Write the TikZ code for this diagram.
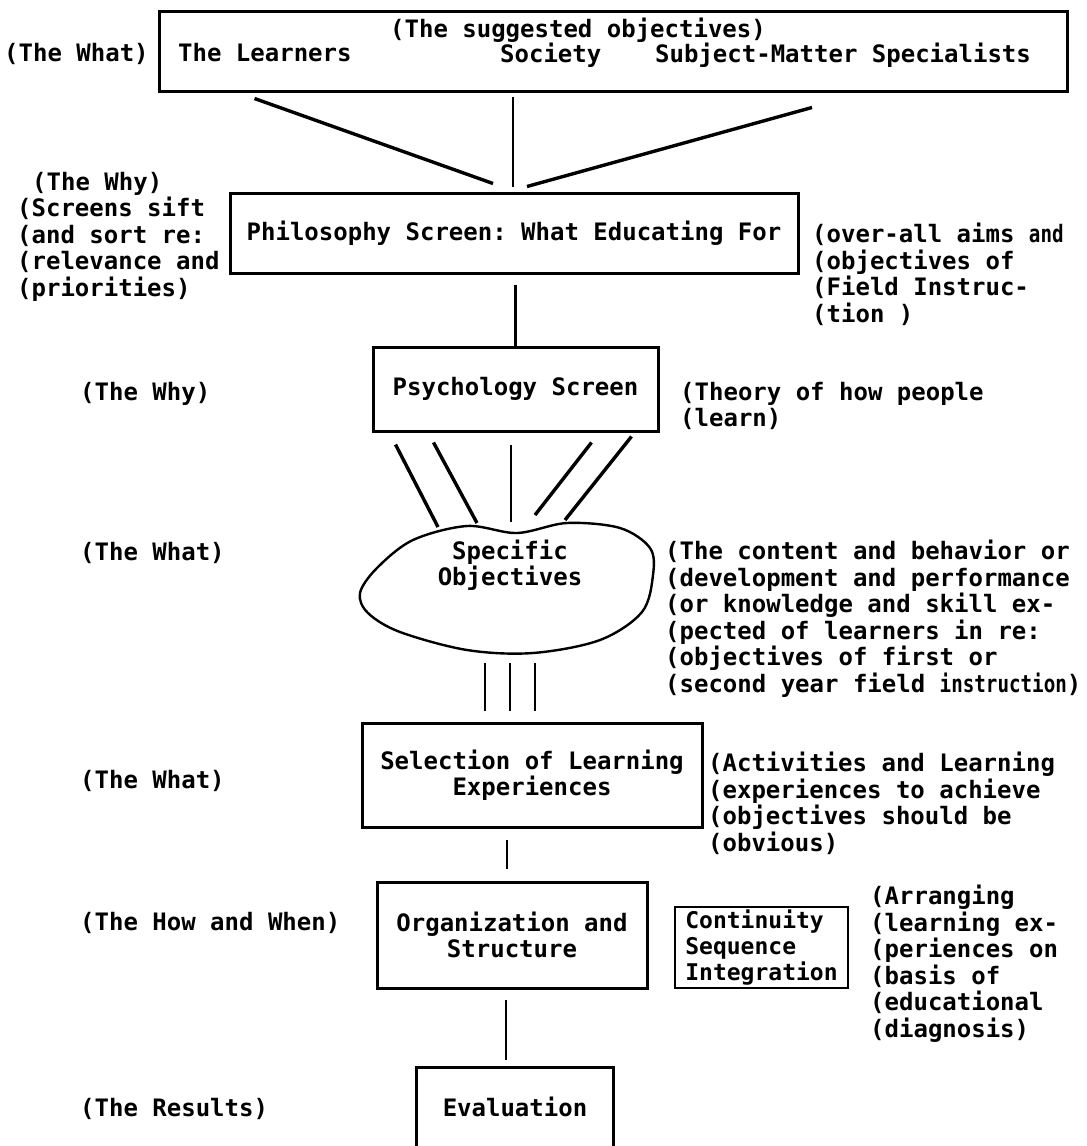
\documentclass[tikz,border=0pt]{standalone}
\usepackage{fontspec}
\usepackage{graphicx}
\setmonofont{DejaVu Sans Mono}
\usetikzlibrary{calc}
\begin{document}
\begin{tikzpicture}[x=1pt,y=-1pt,
  every node/.style={inner sep=0pt, font=\ttfamily\bfseries\fontsize{24}{26.5}\selectfont},
  note/.style={anchor=north west, align=left},
  boxnode/.style={draw, line width=3pt, align=center, minimum width=#1},
  conn/.style={line width=3.4pt},
  thin conn/.style={line width=2.4pt}]
\useasboundingbox (0,0) rectangle (1087,1146);
\fill[white] (0,0) rectangle (1087,1146);

% top box
\node[boxnode=908pt, minimum height=80pt] (top) at (613,51) {};
\node[anchor=north] (sugg) at (578,18) {(The suggested objectives)};
\node[note] (learn) at (178,43) {The Learners};
\node[note] (soc) at (500,43) {Society};
\node[note] (smspec) at (655,43) {Subject-Matter Specialists};
\node[note] (what1) at (4,43) {(The What)};

% philosophy
\node[boxnode=568pt, minimum height=80pt] (phil) at (514,233) {Philosophy Screen: What Educating For};
\node[note] (why1) at (32,172) {(The Why)};
\node[note] (sift) at (17,197) {(Screens sift\\(and sort re:\\(relevance and\\(priorities)};
\node[note] (aims) at (812,223) {(over-all aims \scalebox{0.8}[1]{and}\\(objectives of\\(Field Instruc-\\(tion )};

\draw[conn] ([shift={(97,6)}]top.south west) -- ([shift={(-21,-8)}]phil.north);
\draw[thin conn] ([shift={(-100,4)}]top.south) -- ([shift={(-1,-5)}]phil.north);
\draw[conn] ([shift={(199,15)}]top.south) -- ([shift={(13,-5)}]phil.north);

% psychology
\node[boxnode=285pt, minimum height=84pt] (psy) at (515.5,389) {Psychology Screen};
\node[note] (why2) at (80,382) {(The Why)};
\node[note] (theory) at (680,382) {(Theory of how people\\(learn)};
\draw[thin conn] ([yshift=-10]phil.south -| psy.north) -- (psy.north);

% blob
\node[align=center] (blob) at (510,565) {Specific\\Objectives};
\draw[line width=2.4pt] plot[smooth cycle, tension=0.55] coordinates {
  (517,533) (567,523) (620,528) (650,548) (653,575) (642,612) (600,640)
  (533,653) (467,650) (400,632) (368,613) (360,593) (377,568) (413,540) (467,526)};
\coordinate (b1) at (438,527);
\coordinate (b2) at (477,523);
\coordinate (b3) at (511,522);
\coordinate (b4) at (535,515);
\coordinate (b5) at (565,520);
\draw[conn] ([shift={(24,12)}]psy.south west) -- (b1);
\draw[conn] ([shift={(62,10)}]psy.south west) -- (b2);
\draw[thin conn] ([shift={(-4.5,12)}]psy.south) -- (b3);
\draw[conn] ([shift={(-68,10)}]psy.south east) -- (b4);
\draw[conn] ([shift={(-28,4)}]psy.south east) -- (b5);
\node[note] (what2) at (80,542) {(The What)};
\node[note] (content) at (665,540) {(The content and behavior or\\(development and performance\\(or knowledge and skill ex-\\(pected of learners in re:\\(objectives of first or\\(second year field \scalebox{0.8}[1]{instruction})};

% selection
\node[boxnode=340pt, minimum height=104pt] (sel) at (532,775) {Selection of Learning\\Experiences};
\coordinate (s1) at (485,663);
\coordinate (s2) at (510,663);
\coordinate (s3) at (535,663);
\draw[thin conn] (s1) -- ([yshift=11]s1 |- sel.north);
\draw[thin conn] (s2) -- ([yshift=11]s2 |- sel.north);
\draw[thin conn] (s3) -- ([yshift=11]s3 |- sel.north);
\node[note] (what3) at (80,770) {(The What)};
\node[note] (activ) at (708,752) {(Activities and Learning\\(experiences to achieve\\(objectives  should be\\(obvious)};

% organization
\node[boxnode=270pt, minimum height=106pt] (org) at (512,935) {Organization and\\Structure};
\draw[thin conn] ([shift={(-25,11)}]sel.south) -- ([shift={(-5,-12)}]org.north);
\node[draw, line width=2.8pt, minimum width=173pt, minimum height=81pt, align=left,
  font=\ttfamily\bfseries\fontsize{23}{26}\selectfont] (cont) at (761.5,947.5) {Continuity\\Sequence\\Integration};
\node[note] (how) at (80,912) {(The How and When)};
\node[note] (arrange) at (870,885) {(Arranging\\(learning ex-\\(periences on\\(basis of\\(educational\\(diagnosis)};

% evaluation
\node[minimum width=196pt, minimum height=78pt] (eval) at (515,1107) {Evaluation};
\draw[line width=3pt] (eval.south west) -- (eval.north west) -- (eval.north east) -- (eval.south east);
\draw[thin conn] ([shift={(-6,10)}]org.south) -- ([shift={(-9,-8)}]eval.north);
\node[note] (results) at (80,1098) {(The Results)};
\end{tikzpicture}
\end{document}
